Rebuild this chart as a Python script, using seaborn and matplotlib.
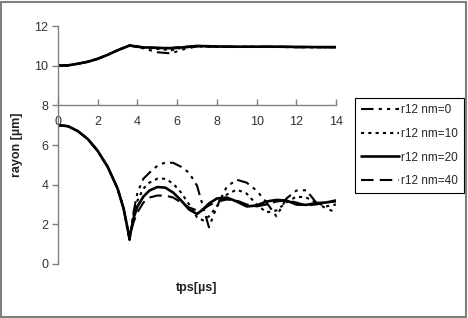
import matplotlib
matplotlib.use("Agg")
import matplotlib.pyplot as plt
import numpy as np
import pandas as pd
import seaborn as sns
from matplotlib.patches import Rectangle

sns.set_theme(style="white")
plt.rcParams["font.family"] = ["Liberation Sans", "DejaVu Sans"]

# time axis [us]
t_in = [0, 0.5, 1, 1.5, 2, 2.5, 3, 3.3, 3.6, 3.8, 4.0, 4.3, 4.6, 5.0, 5.4, 5.8, 6.2,
        6.6, 7.0, 7.3, 7.6, 8.0, 8.5, 9.0, 9.5, 10.0, 10.5, 11.0, 11.5, 12.0, 12.5,
        13.0, 13.5, 14.0]
t_out = [0, 0.5, 1, 1.5, 2, 2.5, 3, 3.6, 4.2, 5.0, 5.7, 6.2, 7.0, 8, 9, 10, 11, 12, 13, 14]

labels = ["r12 nm=0", "r12 nm=10", "r12 nm=20", "r12 nm=40"]

# inner radius (lower branch)
r_in_0 = [7.0, 6.95, 6.7, 6.3, 5.7, 4.9, 3.8, 2.8, 1.2, 2.6, 3.6, 4.3, 4.6, 4.95, 5.12,
          5.1, 4.9, 4.6, 3.95, 2.9, 1.85, 2.9, 3.9, 4.25, 4.1, 3.7, 3.1, 2.4, 3.3, 3.7,
          3.72, 3.1, 2.8, 2.6]
r_in_10 = [7.0, 6.95, 6.7, 6.3, 5.7, 4.9, 3.8, 2.8, 1.25, 2.5, 3.2, 3.8, 4.1, 4.3, 4.3,
           4.05, 3.6, 3.0, 2.35, 2.2, 2.4, 2.9, 3.5, 3.75, 3.55, 3.0, 2.6, 2.7, 3.1, 3.4,
           3.35, 3.1, 2.9, 3.0]
r_in_20 = [7.0, 6.95, 6.7, 6.3, 5.7, 4.9, 3.8, 2.8, 1.3, 2.3, 2.9, 3.4, 3.7, 3.88, 3.85,
           3.6, 3.2, 2.75, 2.52, 2.75, 3.05, 3.3, 3.35, 3.15, 2.9, 2.95, 3.15, 3.23, 3.2,
           3.0, 2.98, 3.07, 3.1, 3.2]
r_in_40 = [7.0, 6.95, 6.7, 6.3, 5.7, 4.9, 3.8, 2.8, 1.35, 2.1, 2.6, 3.1, 3.35, 3.45, 3.45,
           3.35, 3.1, 2.85, 2.7, 2.75, 2.95, 3.15, 3.25, 3.2, 3.0, 2.9, 3.0, 3.15, 3.2,
           3.1, 2.95, 3.0, 3.1, 3.15]

# outer radius (upper branch)
r_out_0 = [10.0, 10.02, 10.1, 10.2, 10.35, 10.55, 10.78, 11.02, 10.9, 10.68, 10.62, 10.8,
           10.98, 10.95, 10.95, 10.95, 10.95, 10.93, 10.93, 10.93]
r_out_10 = [10.0, 10.02, 10.1, 10.2, 10.35, 10.55, 10.78, 11.02, 10.92, 10.85, 10.78, 10.9,
            10.98, 10.96, 10.95, 10.95, 10.95, 10.94, 10.93, 10.93]
r_out_20 = [10.0, 10.02, 10.1, 10.2, 10.35, 10.55, 10.78, 11.02, 10.93, 10.9, 10.88, 10.92,
            11.0, 10.97, 10.96, 10.96, 10.96, 10.95, 10.94, 10.94]
r_out_40 = [10.0, 10.02, 10.1, 10.2, 10.35, 10.55, 10.78, 11.02, 10.95, 10.9, 10.9, 10.95,
            10.98, 10.96, 10.95, 10.96, 10.96, 10.95, 10.94, 10.94]

inner = [r_in_0, r_in_10, r_in_20, r_in_40]
outer = [r_out_0, r_out_10, r_out_20, r_out_40]
styles = [(0, (6, 2.5, 1.5, 2.5, 1.5, 2.5)), (0, (1.5, 2)), "-", (0, (6, 3))]
widths = [1.5, 1.5, 1.9, 1.5]

fig = plt.figure(figsize=(4.68, 3.18), dpi=100)
ax = fig.add_axes([0.124, 0.170, 0.594, 0.748])

for lab, ri, ro, ls, lw in zip(labels, inner, outer, styles, widths):
    sns.lineplot(x=t_in, y=ri, ax=ax, color="black", linestyle=ls, linewidth=lw, label=lab)
    sns.lineplot(x=t_out, y=ro, ax=ax, color="black", linestyle=ls, linewidth=lw, legend=False)

ax.set_xlim(0, 14)
ax.set_ylim(0, 12)
ax.set_xticks(np.arange(0, 15, 2))
ax.set_yticks(np.arange(0, 13, 2))

for s in ["top", "right"]:
    ax.spines[s].set_visible(False)
ax.spines["bottom"].set_position(("data", 8))
for s in ["left", "bottom"]:
    ax.spines[s].set_color("#808080")
    ax.spines[s].set_linewidth(1.0)

ax.tick_params(axis="y", direction="out", length=4, width=1, color="#808080",
               labelsize=9, labelcolor="#333333", left=True, pad=3)
ax.tick_params(axis="x", direction="in", length=4, width=1, color="#808080",
               labelsize=9, labelcolor="#333333", bottom=True, pad=8)

ax.set_xlabel("tps[µs]", fontsize=9, fontweight="bold", color="#222222")
ax.set_ylabel("rayon [µm]", fontsize=9, fontweight="bold", color="#222222")
ax.xaxis.set_label_coords(0.5, -0.075)
ax.yaxis.set_label_coords(-0.125, 0.5)

ax.legend(loc="upper left", bbox_to_anchor=(355 / 468, 1 - 98 / 318),
          bbox_transform=fig.transFigure, fontsize=8.5, frameon=True, fancybox=False,
          edgecolor="black", framealpha=1, handlelength=3.2, labelspacing=1.0,
          borderpad=0.5, handletextpad=0.2, borderaxespad=0)
ax.get_legend().get_frame().set_linewidth(0.8)

fig.add_artist(Rectangle((0.003, 0.004), 0.992, 0.99, transform=fig.transFigure,
                         fill=False, edgecolor="#808080", linewidth=1.5))

fig.savefig("out.png", dpi=100)
